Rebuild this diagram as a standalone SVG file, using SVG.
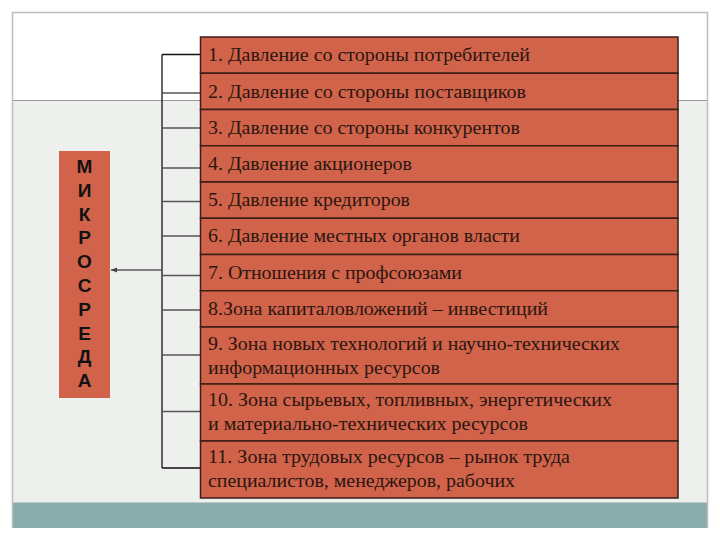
<svg xmlns="http://www.w3.org/2000/svg" width="720" height="540" viewBox="0 0 720 540">
<defs>
<style>
.row rect{fill:#d1634b;stroke:#3b1e14;stroke-width:1.5}
.row text{font-size:18px;fill:#2b1610}
.tick{stroke:#555;stroke-width:1.3;fill:none}
.mk{font-weight:bold;font-size:19px;fill:#111;text-anchor:middle}
</style>
<marker id="ah" markerWidth="7" markerHeight="6" refX="6" refY="3" orient="auto" markerUnits="userSpaceOnUse">
<path d="M0,0.5 L6,3 L0,5.5 z" fill="#444"/>
</marker>
</defs>
<rect width="720" height="540" fill="#ffffff"/>
<rect x="12" y="101" width="695" height="402" fill="#eef0ed"/>
<rect x="12" y="502.5" width="695" height="25.5" fill="#8aacab"/>
<line x1="12" y1="100.5" x2="707" y2="100.5" stroke="#9a9a9a" stroke-width="1"/>
<path d="M12.5,528 V12.5 H707.5 V528" fill="none" stroke="#bdbdbd" stroke-width="1.5"/>

<g id="connectors">
<line x1="162" y1="54.5" x2="162" y2="468" stroke="#111" stroke-width="1.3"/>
<line class="tick" x1="162" y1="54.5" x2="200" y2="54.5" style="stroke:#111"/>
<line class="tick" x1="162" y1="93" x2="200" y2="93"/>
<line class="tick" x1="162" y1="128" x2="200" y2="128"/>
<line class="tick" x1="162" y1="168" x2="200" y2="168"/>
<line class="tick" x1="162" y1="201.5" x2="200" y2="201.5"/>
<line class="tick" x1="162" y1="236" x2="200" y2="236"/>
<line class="tick" x1="162" y1="275.5" x2="200" y2="275.5"/>
<line class="tick" x1="162" y1="310" x2="200" y2="310"/>
<line class="tick" x1="162" y1="355" x2="200" y2="355"/>
<line class="tick" x1="162" y1="411.5" x2="200" y2="411.5"/>
<line class="tick" x1="162" y1="468" x2="200" y2="468" style="stroke:#111"/>
<line x1="162" y1="270" x2="111" y2="270" stroke="#5a5a5a" stroke-width="1.6" marker-end="url(#ah)"/>
</g>

<g id="mikrosreda" font-family="Liberation Sans, Arial, sans-serif">
<rect x="59" y="151" width="51" height="247" fill="#d1634b"/>
<text class="mk" x="84.5" y="173">М</text>
<text class="mk" x="84.5" y="196.8">И</text>
<text class="mk" x="84.5" y="220.6">К</text>
<text class="mk" x="84.5" y="244.4">Р</text>
<text class="mk" x="84.5" y="268.2">О</text>
<text class="mk" x="84.5" y="292">С</text>
<text class="mk" x="84.5" y="315.8">Р</text>
<text class="mk" x="84.5" y="339.6">Е</text>
<text class="mk" x="84.5" y="363.4">Д</text>
<text class="mk" x="84.5" y="387.2">А</text>
</g>

<g id="rows" font-family="'Liberation Serif', 'Times New Roman', serif">
<g id="row1" class="row"><rect x="200.5" y="37" width="477.5" height="36.25"/><text x="208" y="61" textLength="322" lengthAdjust="spacingAndGlyphs">1. Давление со стороны потребителей</text></g>
<g id="row2" class="row"><rect x="200.5" y="73.25" width="477.5" height="36.25"/><text x="208" y="97.5" textLength="318" lengthAdjust="spacingAndGlyphs">2. Давление со стороны поставщиков</text></g>
<g id="row3" class="row"><rect x="200.5" y="109.5" width="477.5" height="36.25"/><text x="208" y="133.5" textLength="312" lengthAdjust="spacingAndGlyphs">3. Давление со стороны конкурентов</text></g>
<g id="row4" class="row"><rect x="200.5" y="145.75" width="477.5" height="36.25"/><text x="208" y="169.5" textLength="204" lengthAdjust="spacingAndGlyphs">4. Давление акционеров</text></g>
<g id="row5" class="row"><rect x="200.5" y="182" width="477.5" height="36.25"/><text x="208" y="206" textLength="202" lengthAdjust="spacingAndGlyphs">5. Давление кредиторов</text></g>
<g id="row6" class="row"><rect x="200.5" y="218.25" width="477.5" height="36.25"/><text x="208" y="242" textLength="312" lengthAdjust="spacingAndGlyphs">6. Давление местных органов власти</text></g>
<g id="row7" class="row"><rect x="200.5" y="254.5" width="477.5" height="36.25"/><text x="208" y="278.5" textLength="254" lengthAdjust="spacingAndGlyphs">7. Отношения с профсоюзами</text></g>
<g id="row8" class="row"><rect x="200.5" y="290.75" width="477.5" height="36.25"/><text x="208" y="314.5" textLength="340" lengthAdjust="spacingAndGlyphs">8.Зона капиталовложений – инвестиций</text></g>
<g id="row9" class="row"><rect x="200.5" y="327" width="477.5" height="57"/><text x="208" y="349.5" textLength="412" lengthAdjust="spacingAndGlyphs">9. Зона новых технологий и научно-технических</text><text x="208" y="373.5" textLength="232" lengthAdjust="spacingAndGlyphs">информационных ресурсов</text></g>
<g id="row10" class="row"><rect x="200.5" y="384" width="477.5" height="57"/><text x="208" y="406" textLength="404" lengthAdjust="spacingAndGlyphs">10. Зона сырьевых, топливных, энергетических</text><text x="208" y="430" textLength="320" lengthAdjust="spacingAndGlyphs">и материально-технических ресурсов</text></g>
<g id="row11" class="row"><rect x="200.5" y="441" width="477.5" height="57"/><text x="208" y="463" textLength="362" lengthAdjust="spacingAndGlyphs">11. Зона трудовых ресурсов – рынок труда</text><text x="208" y="487" textLength="307" lengthAdjust="spacingAndGlyphs">специалистов, менеджеров, рабочих</text></g>
</g>
</svg>
